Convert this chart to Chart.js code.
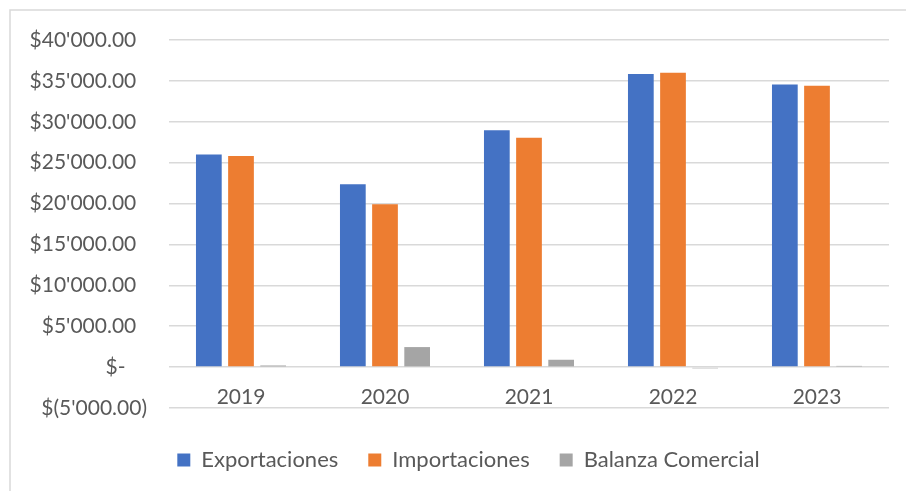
<!DOCTYPE html>
<html>
<head>
<meta charset="utf-8">
<script src="https://cdn.jsdelivr.net/npm/chart.js@4.4.1/dist/chart.umd.min.js"></script>
<style>
    html, body { margin: 0; padding: 0; background: #ffffff; overflow: hidden; }
    #wrap { position: relative; width: 906px; height: 491px; }
</style>
</head>
<body>
<div id="wrap"><canvas id="tradeChart"></canvas></div>
<script>
const years = ['2019', '2020', '2021', '2022', '2023'];
const exportaciones = [26000, 22350, 28950, 35850, 34550];
const importaciones = [25800, 19900, 28050, 36000, 34400];
const balanzaComercial = [200, 2450, 900, -150, 150];

const yMin = -5000;
const yMax = 40000;
const yStep = 5000;

const textColor = '#595959';
const gridColor = '#d9d9d9';
const fontFamily = 'Lato, "Open Sans", sans-serif';

// formato contable: $40'000.00, $-, $(5'000.00)
function accounting(v) {
    if (v === 0) return '$-    ';
    const s = Math.abs(v).toFixed(2).replace(/\B(?=(\d{3})+(?!\d))/g, "'");
    return v < 0 ? '$(' + s + ')' : '$' + s + '  ';
}

// marco gris del grafico
const frame = {
    id: 'frame',
    beforeDraw(chart) {
        const ctx = chart.ctx;
        ctx.save();
        ctx.strokeStyle = gridColor;
        ctx.lineWidth = 1.5;
        ctx.strokeRect(10, 10, chart.width + 20, chart.height + 20);
        ctx.restore();
    }
};

// mover la leyenda un poco (como en Excel)
const legendShift = {
    id: 'legendShift',
    afterLayout(chart) {
        const lg = chart.legend;
        if (!lg) return;
        lg.left += 24;
        lg.right += 24;
        lg.top += 11;
        lg.bottom += 11;
    }
};

const data = {
    labels: years,
    datasets: [
        { label: 'Exportaciones', data: exportaciones, backgroundColor: '#4472c4' },
        { label: 'Importaciones', data: importaciones, backgroundColor: '#ed7d31' },
        { label: 'Balanza Comercial', data: balanzaComercial, backgroundColor: '#a5a5a5' }
    ]
};

const config = {
    type: 'bar',
    data: data,
    options: {
        responsive: true,
        maintainAspectRatio: false,
        animation: false,
        datasets: {
            bar: {
                categoryPercentage: 0.67,
                barPercentage: 0.8
            }
        },
        layout: {
            padding: { top: 40, right: 17, bottom: 21, left: 0 }
        },
        scales: {
            x: {
                position: { y: 0 },
                grid: { display: false, drawTicks: false },
                border: { display: false },
                ticks: {
                    color: textColor,
                    font: { family: fontFamily, size: 21 },
                    padding: 18,
                    maxRotation: 0
                }
            },
            y: {
                min: yMin,
                max: yMax,
                afterFit(scale) { scale.width = 169; },
                grid: { color: gridColor, lineWidth: 1.5, drawTicks: false },
                border: { display: false },
                ticks: {
                    stepSize: yStep,
                    color: textColor,
                    font: { family: fontFamily, size: 21 },
                    padding: 22,
                    callback: (value) => accounting(value)
                }
            }
        },
        plugins: {
            legend: {
                position: 'bottom',
                labels: {
                    color: textColor,
                    font: { family: fontFamily, size: 22 },
                    boxWidth: 13,
                    boxHeight: 13,
                    padding: 30
                }
            },
            tooltip: { enabled: false }
        }
    },
    plugins: [frame, legendShift]
};

const ctx = document.getElementById('tradeChart').getContext('2d');
const tradeChart = new Chart(ctx, config);
</script>
</body>
</html>
